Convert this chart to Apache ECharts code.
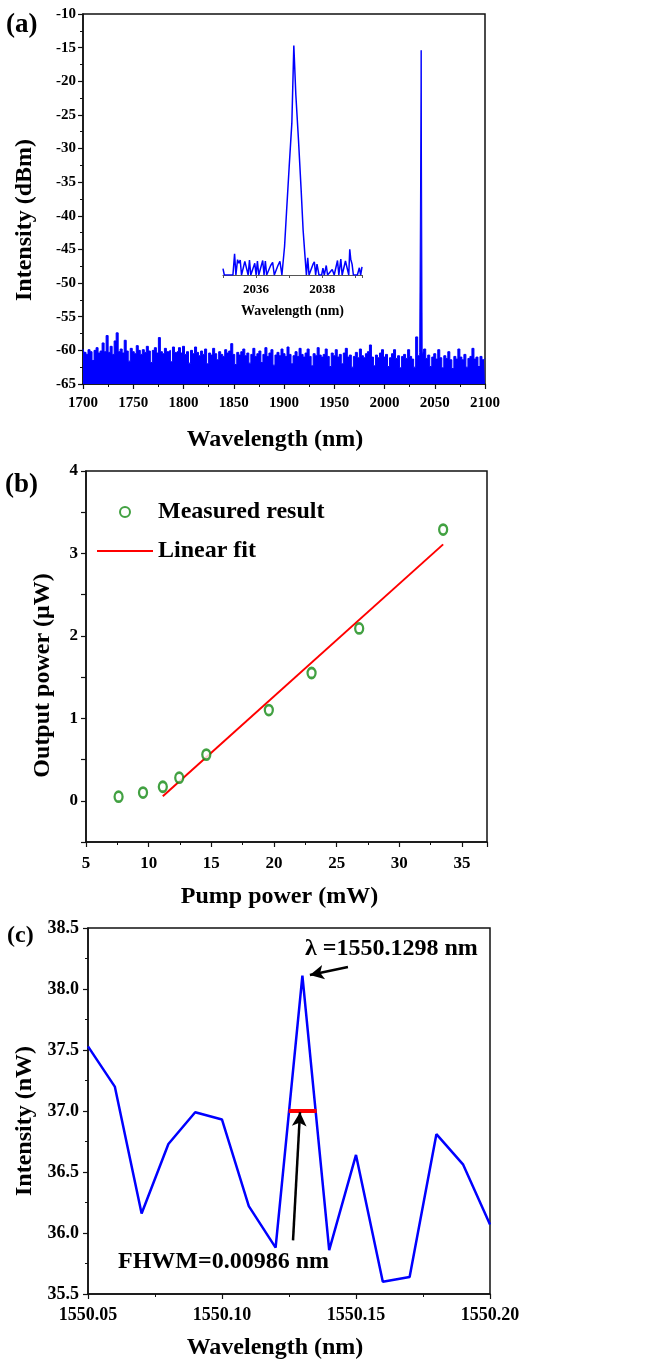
<!DOCTYPE html>
<html><head><meta charset="utf-8">
<script src="https://cdn.jsdelivr.net/npm/echarts@6/dist/echarts.min.js"></script>
<style>html,body{margin:0;padding:0;background:#fff}#c{width:650px;height:1364px}</style>
</head><body><div id="c"></div>
<script>
const FONT = "'Liberation Serif','Times New Roman',serif";

// ---------- (a) spectrum ----------
const spectrumStart = 1700, spectrumStep = 2;
const spectrumNoise = [
-59.8,-60.3,-60.6,-59.9,-60.2,-61.5,-60.0,-59.6,-60.4,-60.1,
-58.9,-60.2,-57.8,-60.3,-59.4,-60.6,-58.6,-57.4,-60.2,-59.8,
-60.4,-58.5,-60.1,-61.6,-59.7,-60.2,-60.5,-59.3,-60.0,-60.6,
-59.9,-60.3,-59.4,-60.1,-61.8,-60.0,-59.6,-60.4,-58.1,-60.2,
-60.5,-59.7,-60.2,-60.0,-61.7,-59.5,-60.3,-60.1,-59.6,-60.4,
-59.4,-60.6,-60.2,-61.9,-60.0,-60.5,-59.5,-60.3,-60.8,-60.1,
-60.6,-59.8,-62.0,-60.4,-60.7,-59.7,-60.5,-61.4,-60.2,-60.6,
-60.9,-59.9,-60.4,-60.1,-59.0,-60.6,-62.1,-60.3,-60.7,-60.2,
-59.8,-60.8,-60.4,-61.9,-60.6,-59.7,-60.9,-60.5,-60.1,-61.8,
-60.6,-59.6,-60.9,-60.4,-59.9,-62.2,-60.7,-60.3,-60.8,-59.8,
-60.5,-60.9,-59.5,-60.6,-62.0,-60.8,-60.2,-60.9,-59.7,-60.6,
-61.0,-60.4,-59.8,-60.9,-62.3,-60.5,-60.8,-59.6,-60.7,-61.0,
-60.6,-59.8,-60.9,-62.4,-60.4,-60.8,-59.9,-61.0,-60.6,-62.0,
-60.4,-59.7,-61.0,-60.7,-62.5,-60.9,-60.3,-61.1,-59.8,-60.8,
-61.1,-60.5,-60.2,-59.2,-61.0,-62.3,-60.7,-61.1,-60.4,-59.9,
-61.0,-60.6,-62.4,-61.1,-60.5,-59.9,-61.2,-60.8,-62.6,-60.9,
-60.6,-61.2,-59.9,-60.9,-61.3,-62.5,-58.0,-60.8,-60.3,-60.9,
-59.8,-61.2,-60.7,-62.4,-61.0,-60.5,-61.3,-59.9,-61.1,-62.6,
-60.8,-61.2,-60.2,-61.4,-62.7,-60.9,-61.3,-59.8,-61.0,-61.4,
-60.6,-62.5,-61.2,-60.9,-59.7,-61.3,-61.0,-62.4,-60.9,-61.4,
-61.2
];
const spectrumPeakWl = [2037.0];
const spectrumPeakDb = [-15.4];

// inset (zoom around 2037 nm)
const insetWl = [2035.00,2035.04,2035.30,2035.35,2035.39,2035.44,2035.48,2035.52,2035.56,2035.60,
2035.66,2035.72,2035.76,2035.80,2035.84,2035.90,2035.96,2036.00,2036.04,2036.08,
2036.14,2036.20,2036.24,2036.28,2036.32,2036.38,2036.44,2036.50,2036.55,2036.60,
2036.66,2036.72,2036.78,2036.82,2036.86,2036.92,2037.00,2037.08,2037.14,2037.20,
2037.28,2037.36,2037.42,2037.47,2037.52,2037.56,2037.60,2037.66,2037.72,2037.76,
2037.80,2037.84,2037.90,2037.98,2038.02,2038.06,2038.12,2038.16,2038.22,2038.30,
2038.36,2038.42,2038.46,2038.50,2038.56,2038.60,2038.64,2038.70,2038.76,2038.80,
2038.83,2038.86,2038.90,2038.94,2039.00,2039.06,2039.12,2039.16,2039.20];
const insetDb = [-64.6,-66,-66,-61.3,-66,-62.6,-63.4,-62.7,-66,-66,
-63.0,-62.6,-66,-62.7,-66,-66,-63.4,-66,-62.9,-66,
-66,-62.8,-66,-62.9,-66,-66,-63.9,-63.2,-66,-66,
-63.9,-63.0,-66,-66,-59.7,-52,-42.0,-32.4,-15.2,-26,
-36,-47,-56.0,-61.1,-66,-62.2,-66,-66,-63.6,-63.1,
-66,-63.6,-66,-66,-64.5,-66,-63.9,-66,-66,-64.8,
-66,-66,-62.8,-66,-62.5,-66,-66,-62.9,-63.2,-66,
-60.3,-62.5,-63.6,-66,-66,-66,-64.4,-66,-64.2];

// ---------- (b) output vs pump ----------
const pumpPower   = [7.6, 9.55, 11.13, 12.44, 14.6, 19.59, 23.0, 26.8, 33.5];
const outputPower = [0.05, 0.10, 0.17, 0.28, 0.56, 1.10, 1.55, 2.09, 3.29];
const fitPump   = [11.13, 33.5];
const fitOutput = [0.055, 3.11];

// ---------- (c) fine spectrum ----------
const fineWl = [1550.05,1550.06,1550.07,1550.08,1550.09,1550.10,1550.11,1550.12,
                1550.13,1550.14,1550.15,1550.16,1550.17,1550.18,1550.19,1550.20];
const fineNw = [37.53,37.20,36.16,36.73,36.99,36.93,36.22,35.88,
                38.11,35.86,36.64,35.60,35.64,36.81,36.56,36.07];
const fwhmWl = [1550.1249, 1550.1353];
const fwhmNw = [37.0, 37.0];
const peakArrow = [[1550.147, 38.18], [1550.1328, 38.115]];
const fwhmArrow = [[1550.1265, 35.94], [1550.1291, 36.99]];

// ---------- build ----------
const zip = (a, b) => a.map((v, i) => [v, b[i]]);
const spectrumData = spectrumNoise.map((v, i) => [spectrumStart + i * spectrumStep, v])
  .concat(zip(spectrumPeakWl, spectrumPeakDb))
  .sort((p, q) => p[0] - q[0]);

const BLACK = '#111';
function valAxis(o) {
  const base = {
    type: 'value',
    axisLine: { show: true, onZero: false, lineStyle: { color: BLACK, width: 1.5 } },
    axisTick: { show: true, length: 5, lineStyle: { color: BLACK, width: 1.2 } },
    minorTick: { show: true, splitNumber: 2, length: 3, lineStyle: { color: BLACK, width: 1 } },
    splitLine: { show: false },
    axisLabel: { color: '#000', fontFamily: FONT, fontWeight: 'bold', fontSize: o.fs || 16, margin: o.margin || 8,
                 formatter: o.fmt || (v => String(v)), showMinLabel: true, showMaxLabel: o.showMax !== false },
    nameLocation: 'middle',
    nameGap: o.nameGap,
    nameTextStyle: { color: '#000', fontFamily: FONT, fontWeight: 'bold', fontSize: o.nfs || 24, padding: o.pad || 0 }
  };
  const r = Object.assign(base, o);
  delete r.fs; delete r.margin; delete r.fmt; delete r.nfs; delete r.pad; delete r.showMax;
  return r;
}
const gridBox = { show: true, borderColor: BLACK, borderWidth: 1.5, backgroundColor: 'transparent' };

const option = {
  animation: false,
  backgroundColor: '#fff',
  grid: [
    Object.assign({ left: 83, top: 14, width: 402, height: 370 }, gridBox),
    { left: 223, top: 40, width: 139, height: 235, show: false },
    Object.assign({ left: 86, top: 471, width: 401, height: 371 }, gridBox),
    Object.assign({ left: 88, top: 928, width: 402, height: 366 }, gridBox)
  ],
  xAxis: [
    valAxis({ gridIndex: 0, min: 1700, max: 2100, interval: 50, fs: 15, margin: 12,
      name: 'Wavelength (nm)', nameGap: 44, pad: [0, 18, 0, 0] }),
    valAxis({ gridIndex: 1, min: 2035, max: 2039.2, interval: 1, fs: 13, margin: 8,
      axisLine: { show: true, onZero: false, lineStyle: { color: '#555', width: 1.2 } },
      axisTick: { show: true, length: 3, lineStyle: { color: '#555', width: 1 } },
      minorTick: { show: false },
      fmt: v => (Math.abs(v - 2036) < 0.01 || Math.abs(v - 2038) < 0.01) ? String(Math.round(v)) : '',
      name: 'Wavelength (nm)', nameGap: 29, nfs: 14 }),
    valAxis({ gridIndex: 2, min: 5, max: 37, interval: 5, fs: 17, margin: 13, showMax: false,
      name: 'Pump power (mW)', nameGap: 43, pad: [0, 14, 0, 0] }),
    valAxis({ gridIndex: 3, min: 1550.05, max: 1550.20, interval: 0.05, fs: 18, margin: 12,
      fmt: v => v.toFixed(2),
      name: 'Wavelength (nm)', nameGap: 42, pad: [0, 28, 0, 0] })
  ],
  yAxis: [
    valAxis({ gridIndex: 0, min: -65, max: -10, interval: 5, fs: 15, margin: 7,
      name: 'Intensity (dBm)', nameGap: 46, pad: [0, 42, 0, 0] }),
    { gridIndex: 1, type: 'value', min: -66, max: -14, show: false },
    valAxis({ gridIndex: 2, min: -0.5, max: 4, interval: 0.5, fs: 17, margin: 8,
      minorTick: { show: false },
      fmt: v => Math.abs(v - Math.round(v)) < 1e-6 ? String(Math.round(v)) : '',
      name: 'Output power (\u03bcW)', nameGap: 31, pad: [0, 38, 0, 0] }),
    valAxis({ gridIndex: 3, min: 35.5, max: 38.5, interval: 0.5, fs: 18, margin: 9,
      fmt: v => v.toFixed(1),
      name: 'Intensity (nW)', nameGap: 50, pad: [0, 20, 0, 0] })
  ],
  legend: {
    orient: 'vertical', left: 92, top: 495, itemWidth: 56, itemHeight: 10, itemGap: 15,
    textStyle: { color: '#000', fontFamily: FONT, fontWeight: 'bold', fontSize: 24 },
    data: [
      { name: 'Measured result' },
      { name: 'Linear fit', icon: 'path://M0,0H56V2H0Z', itemStyle: { color: '#ff0000', borderWidth: 0 } }
    ]
  },
  series: [
    { type: 'line', xAxisIndex: 0, yAxisIndex: 0, data: spectrumData, symbol: 'none', silent: true,
      step: 'middle',
      lineStyle: { color: '#0000ff', width: 1 },
      areaStyle: { color: '#0000ff', opacity: 1, origin: 'start' } },
    { type: 'line', xAxisIndex: 1, yAxisIndex: 1, data: zip(insetWl, insetDb), symbol: 'none', silent: true,
      lineStyle: { color: '#0000ff', width: 1.5 } },
    { name: 'Measured result', type: 'scatter', xAxisIndex: 2, yAxisIndex: 2, data: zip(pumpPower, outputPower),
      symbol: 'circle', symbolSize: [8, 10],
      itemStyle: { color: '#ffffff', borderColor: '#138a13', borderWidth: 2.5 }, z: 3 },
    { name: 'Linear fit', type: 'line', xAxisIndex: 2, yAxisIndex: 2, data: zip(fitPump, fitOutput),
      symbol: 'none', showSymbol: false, lineStyle: { color: '#ff0000', width: 2 }, itemStyle: { color: '#ff0000' }, z: 2 },
    { type: 'line', xAxisIndex: 3, yAxisIndex: 3, data: zip(fineWl, fineNw), symbol: 'none', silent: true,
      lineStyle: { color: '#0000ff', width: 2.5 },
      markLine: {
        silent: true, symbol: ['none', 'arrow'], symbolSize: [11, 14],
        lineStyle: { color: '#000', width: 2.5, type: 'solid' },
        label: { show: false }, emphasis: { disabled: true },
        data: [
          [{ coord: peakArrow[0] }, { coord: peakArrow[1] }],
          [{ coord: fwhmArrow[0] }, { coord: fwhmArrow[1] }]
        ]
      } },
    { type: 'line', xAxisIndex: 3, yAxisIndex: 3, data: zip(fwhmWl, fwhmNw), symbol: 'none', silent: true,
      lineStyle: { color: '#ff0000', width: 4 }, z: 4 }
  ],
  graphic: [
    { type: 'text', left: 6, top: 12, style: { text: '(a)', font: 'bold 27px ' + FONT, fill: '#000' } },
    { type: 'text', left: 5, top: 472, style: { text: '(b)', font: 'bold 27px ' + FONT, fill: '#000' } },
    { type: 'text', left: 7, top: 924, style: { text: '(c)', font: 'bold 24px ' + FONT, fill: '#000' } },
    { type: 'text', left: 305, top: 937, style: { text: '\u03bb =1550.1298 nm', font: 'bold 24px ' + FONT, fill: '#000' } },
    { type: 'text', left: 118, top: 1250, style: { text: 'FHWM=0.00986 nm', font: 'bold 24px ' + FONT, fill: '#000' } }
  ]
};
const chart = echarts.init(document.getElementById('c'), null, { renderer: 'canvas' });
chart.setOption(option);
</script></body></html>
